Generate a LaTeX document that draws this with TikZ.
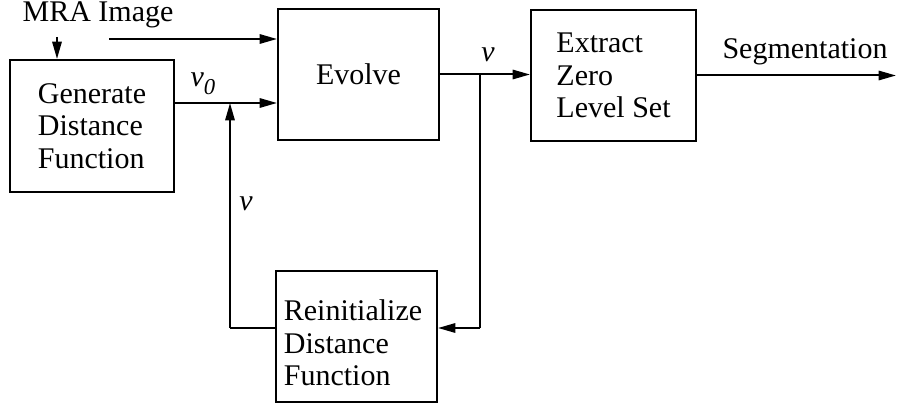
\documentclass[tikz,border=0pt]{standalone}
\usepackage{fontspec}
\setmainfont{Liberation Serif}
\newfontfamily\tms{Liberation Serif}
\usetikzlibrary{arrows.meta}
\begin{document}
\begin{tikzpicture}[x=0.75pt,y=-0.75pt,
  blk/.style={draw, line width=1.5pt, inner sep=0pt, align=left, font=\tms\fontsize{22.5}{24.5}\selectfont},
  lbl/.style={inner sep=0pt, font=\tms\fontsize{22.5}{24.5}\selectfont},
  arr/.style={line width=1.5pt, -{Triangle[length=13pt,width=7pt]}},
  ln/.style={line width=1.5pt},
  thinln/.style={line width=1pt}]
\useasboundingbox (0,0) rectangle (897,406);
\node[blk, minimum width=123pt, minimum height=99pt] (gen) at (92,126) {Generate\\Distance\\Function};
\node[blk, minimum width=120.75pt, minimum height=98.25pt] (evo) at (358.5,74.5) {Evolve};
\node[blk, minimum width=123.75pt, minimum height=98.25pt] (ext) at (613.5,75.5) {Extract\\Zero\\Level Set};
\node[blk, minimum width=120.75pt, minimum height=98.25pt] (rei) at (356.5,336.5) {};
\node[lbl, align=left] (reitxt) at (353,343) {Reinitialize\\Distance\\Function};
\node[lbl] (mra) at (98,15) {MRA Image};
\node[lbl] (seg) at (805,52) {Segmentation};
\node[lbl] (v0) at (203,84) {\itshape v\raisebox{-0.6ex}{\fontsize{17}{17}\selectfont 0}};
\node[lbl] (v1) at (488,55) {\itshape v};
\node[lbl] (v2) at (246,204) {\itshape v};
\coordinate (m1) at (57,37);
\coordinate (t0) at (109,39);
\coordinate (j1) at (230,103);
\coordinate (j2) at (480,74.5);
\coordinate (j3) at (480,328);
\coordinate (segend) at (896,75.5);
\draw[arr] (m1) -- (m1 |- gen.north);
\draw[arr] (t0) -- (t0 -| evo.west);
\draw[arr] (j1 -| gen.east) -- (j1 -| evo.west);
\draw[arr] (evo.east) -- (ext.west |- evo.east);
\draw[arr] (ext.east) -- (segend);
\draw[thinln] (j2) -- (j3);
\draw[arr] (j3) -- (j3 -| rei.east);
\draw[ln] (rei.west |- j3) -- (j1 |- j3);
\draw[arr] (j1 |- j3) -- (j1);
\end{tikzpicture}
\end{document}
